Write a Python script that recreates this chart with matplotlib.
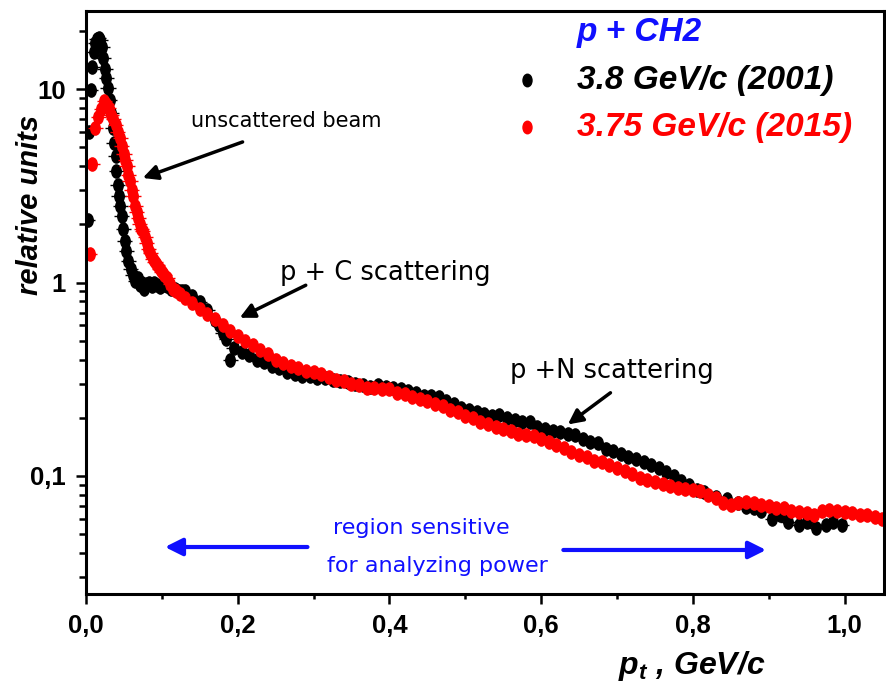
import numpy as np
import matplotlib
matplotlib.use("Agg")
import matplotlib.pyplot as plt
from matplotlib.path import Path
from matplotlib.ticker import FixedLocator, FuncFormatter, LogLocator, NullFormatter

plt.rcParams["mathtext.fontset"] = "custom"
plt.rcParams["mathtext.it"] = "Liberation Sans:bold:italic"
plt.rcParams["mathtext.rm"] = "Liberation Sans:bold:italic"

# ---- p + CH2, 3.8 GeV/c (2001) ----
pt_2001 = [0.002, 0.004, 0.006, 0.008, 0.010, 0.012, 0.014, 0.017, 0.019, 0.021,
           0.023, 0.025, 0.027, 0.029, 0.031, 0.033, 0.035, 0.037, 0.039, 0.040,
           0.042, 0.043, 0.045, 0.047, 0.049, 0.051, 0.053, 0.056, 0.059, 0.062,
           0.065, 0.068, 0.071, 0.074, 0.077, 0.080, 0.083, 0.087, 0.090, 0.094,
           0.098, 0.102, 0.107, 0.112, 0.117, 0.122, 0.127, 0.130, 0.140, 0.150,
           0.160, 0.170, 0.175, 0.180, 0.185, 0.190, 0.195, 0.205, 0.215, 0.225,
           0.235, 0.245, 0.255, 0.265, 0.275, 0.285, 0.295, 0.305, 0.315, 0.325,
           0.335, 0.345, 0.355, 0.365, 0.375, 0.385, 0.395, 0.405, 0.415, 0.425,
           0.435, 0.445, 0.455, 0.465, 0.475, 0.485, 0.495, 0.505, 0.515, 0.525,
           0.535, 0.545, 0.555, 0.565, 0.575, 0.585, 0.595, 0.605, 0.615, 0.625,
           0.635, 0.645, 0.655, 0.665, 0.675, 0.685, 0.695, 0.705, 0.715, 0.725,
           0.735, 0.745, 0.755, 0.765, 0.775, 0.785, 0.795, 0.805, 0.815, 0.830,
           0.845, 0.860, 0.870, 0.880, 0.890, 0.905, 0.915, 0.925, 0.940, 0.950,
           0.963, 0.975, 0.985, 0.996]
y_2001 = [2.1, 6.0, 9.9, 13.1, 15.5, 17.3, 18.2, 18.5, 18.0, 16.5,
          14.5, 12.8, 11.4, 10.1, 8.8, 7.5, 6.3, 5.3, 4.5, 3.8,
          3.2, 2.8, 2.5, 2.2, 1.9, 1.65, 1.45, 1.3, 1.17, 1.1,
          1.02, 1.05, 0.97, 1.0, 0.93, 0.98, 1.0, 0.96, 1.0, 0.97,
          0.95, 0.97, 0.96, 0.93, 0.93, 0.91, 0.90, 0.90, 0.85, 0.79,
          0.72, 0.64, 0.60, 0.55, 0.51, 0.40, 0.46, 0.44, 0.42, 0.40,
          0.39, 0.37, 0.36, 0.345, 0.335, 0.33, 0.33, 0.32, 0.32, 0.315,
          0.31, 0.305, 0.30, 0.295, 0.29, 0.295, 0.29, 0.285, 0.28, 0.275,
          0.27, 0.26, 0.26, 0.255, 0.245, 0.235, 0.225, 0.22, 0.215, 0.21,
          0.205, 0.207, 0.20, 0.195, 0.19, 0.19, 0.18, 0.175, 0.17, 0.168,
          0.165, 0.163, 0.155, 0.15, 0.148, 0.137, 0.135, 0.13, 0.125, 0.122,
          0.118, 0.114, 0.11, 0.105, 0.10, 0.094, 0.09, 0.085, 0.083, 0.078,
          0.076, 0.072, 0.069, 0.068, 0.066, 0.060, 0.063, 0.058, 0.056, 0.058,
          0.054, 0.056, 0.058, 0.056]

# ---- p + CH2, 3.75 GeV/c (2015) ----
pt_2015 = [0.005, 0.008, 0.012, 0.016, 0.020, 0.024, 0.027, 0.030, 0.033, 0.036,
           0.039, 0.042, 0.045, 0.047, 0.050, 0.052, 0.054, 0.056, 0.058, 0.060,
           0.062, 0.065, 0.067, 0.069, 0.071, 0.073, 0.075, 0.078, 0.080, 0.082,
           0.085, 0.088, 0.091, 0.094, 0.097, 0.100, 0.103, 0.107, 0.111, 0.115,
           0.119, 0.124, 0.13, 0.14, 0.15, 0.16, 0.17, 0.18, 0.19, 0.20,
           0.21, 0.22, 0.23, 0.24, 0.25, 0.26, 0.27, 0.28, 0.29, 0.30,
           0.31, 0.32, 0.33, 0.34, 0.35, 0.36, 0.37, 0.38, 0.39, 0.40,
           0.41, 0.42, 0.43, 0.44, 0.45, 0.46, 0.47, 0.48, 0.49, 0.50,
           0.51, 0.52, 0.53, 0.54, 0.55, 0.56, 0.57, 0.58, 0.59, 0.60,
           0.61, 0.62, 0.63, 0.64, 0.65, 0.66, 0.67, 0.68, 0.69, 0.70,
           0.71, 0.72, 0.73, 0.74, 0.75, 0.76, 0.77, 0.78, 0.79, 0.80,
           0.81, 0.82, 0.83, 0.84, 0.85, 0.86, 0.87, 0.88, 0.89, 0.90,
           0.91, 0.92, 0.93, 0.94, 0.95, 0.96, 0.97, 0.98, 0.99, 1.00,
           1.01, 1.02, 1.03, 1.04, 1.05]
y_2015 = [1.40, 4.1, 6.3, 7.2, 7.9, 8.7, 8.4, 8.0, 7.4, 7.0,
          6.5, 6.0, 5.6, 5.06, 4.6, 4.3, 4.0, 3.6, 3.35, 3.0,
          2.8, 2.5, 2.33, 2.15, 2.0, 1.9, 1.84, 1.72, 1.6, 1.5,
          1.42, 1.33, 1.28, 1.24, 1.18, 1.13, 1.09, 1.05, 0.98, 0.93,
          0.90, 0.87, 0.83, 0.78, 0.73, 0.69, 0.645, 0.60, 0.56, 0.53,
          0.50, 0.475, 0.45, 0.425, 0.40, 0.385, 0.37, 0.36, 0.35, 0.345,
          0.335, 0.325, 0.315, 0.31, 0.30, 0.295, 0.285, 0.285, 0.28, 0.28,
          0.27, 0.265, 0.255, 0.25, 0.245, 0.235, 0.23, 0.22, 0.215, 0.205,
          0.20, 0.19, 0.185, 0.18, 0.175, 0.17, 0.165, 0.162, 0.16, 0.155,
          0.15, 0.145, 0.14, 0.133, 0.128, 0.125, 0.12, 0.118, 0.114, 0.11,
          0.106, 0.102, 0.098, 0.095, 0.093, 0.091, 0.089, 0.087, 0.086, 0.085,
          0.084, 0.080, 0.077, 0.072, 0.071, 0.072, 0.073, 0.072, 0.071, 0.070,
          0.068, 0.068, 0.066, 0.065, 0.064, 0.063, 0.066, 0.067, 0.066, 0.065,
          0.064, 0.063, 0.063, 0.061, 0.060]

pt_err = 0.010  # horizontal bin half-width

x_ticks = [0.0, 0.2, 0.4, 0.6, 0.8, 1.0]
y_ticks = [0.1, 1, 10]

# upright ellipse marker
circ = Path.unit_circle()
ellipse = Path(circ.vertices * np.array([0.72, 1.0]), circ.codes)

fig = plt.figure(figsize=(8.87, 6.94), dpi=100)
ax = fig.add_axes([86 / 887, 1 - 594 / 694, (884 - 86) / 887, (594 - 11) / 694])

ax.errorbar(pt_2001, y_2001, xerr=pt_err, fmt="none", ecolor="black", elinewidth=1.0)
ax.plot(pt_2001, y_2001, ls="none", marker=ellipse, ms=9.5, color="black", mec="black")
ax.errorbar(pt_2015, y_2015, xerr=pt_err, fmt="none", ecolor="red", elinewidth=1.0)
ax.plot(pt_2015, y_2015, ls="none", marker=ellipse, ms=9.5, color="red", mec="red")

ax.set_yscale("log")
ax.set_xlim(0, 1.052)
ax.set_ylim(0.0245, 25.4)

comma = FuncFormatter(lambda v, p: f"{v:g}".replace(".", ","))
ax.xaxis.set_major_locator(FixedLocator(x_ticks))
ax.xaxis.set_major_formatter(FuncFormatter(lambda v, p: f"{v:.1f}".replace(".", ",")))
ax.xaxis.set_minor_locator(FixedLocator([0.1, 0.3, 0.5, 0.7, 0.9]))
ax.yaxis.set_major_locator(FixedLocator(y_ticks))
ax.yaxis.set_major_formatter(comma)
ax.yaxis.set_minor_locator(LogLocator(base=10, subs=np.arange(2, 10)))
ax.yaxis.set_minor_formatter(NullFormatter())

for s in ax.spines.values():
    s.set_linewidth(2.2)
ax.tick_params(which="major", direction="out", length=7.5, width=1.8, pad=7,
               top=False, right=False)
ax.tick_params(which="minor", direction="out", length=5, width=1.8,
               top=False, right=False)
ax.tick_params(axis="x", which="minor", length=3.5)
for lab in ax.get_xticklabels() + ax.get_yticklabels():
    lab.set_fontfamily("Liberation Sans")
    lab.set_fontweight("bold")
    lab.set_fontsize(18.5)

bi = dict(family="Liberation Sans", weight="bold", style="italic")
fig.text(30 / 887, 1 - 205 / 694, "relative units", rotation=90,
         ha="center", va="center", fontsize=21, **bi)
fig.text(692 / 887, 1 - 666 / 694, r"$p_t$ , GeV/c", ha="center", va="center",
         fontsize=23, **bi)

# legend block
ax.text(0.6153, 0.9623, "p + CH2", transform=ax.transAxes, ha="left", va="center",
        color="#1010ff", fontsize=24, **bi)
ax.text(0.6153, 0.8816, "3.8 GeV/c (2001)", transform=ax.transAxes, ha="left",
        va="center", color="black", fontsize=24, **bi)
ax.text(0.6153, 0.801, "3.75 GeV/c (2015)", transform=ax.transAxes, ha="left",
        va="center", color="red", fontsize=24, **bi)
ax.plot([0.5526], [0.8816], transform=ax.transAxes, marker=ellipse, ms=9,
        color="black", ls="none", clip_on=False)
ax.plot([0.5526], [0.801], transform=ax.transAxes, marker=ellipse, ms=9,
        color="red", ls="none", clip_on=False)

# annotations
note = dict(family="DejaVu Sans", color="black")
ax.text(0.251, 0.811, "unscattered beam", transform=ax.transAxes, ha="center",
        va="center", fontsize=15, **note)
ax.annotate("", xy=(0.0678, 0.712), xytext=(0.1995, 0.777),
            xycoords="axes fraction", textcoords="axes fraction",
            arrowprops=dict(arrowstyle="-|>", lw=2.5, color="black", mutation_scale=22))
ax.text(0.375, 0.5506, "p + C scattering", transform=ax.transAxes, ha="center",
        va="center", fontsize=18.5, **note)
ax.annotate("", xy=(0.1895, 0.4717), xytext=(0.2785, 0.5317),
            xycoords="axes fraction", textcoords="axes fraction",
            arrowprops=dict(arrowstyle="-|>", lw=2.5, color="black", mutation_scale=22))
ax.text(0.6587, 0.3825, "p +N scattering", transform=ax.transAxes, ha="center",
        va="center", fontsize=18.5, **note)
ax.annotate("", xy=(0.601, 0.288), xytext=(0.66, 0.348),
            xycoords="axes fraction", textcoords="axes fraction",
            arrowprops=dict(arrowstyle="-|>", lw=2.5, color="black", mutation_scale=22))

blue = "#1010ff"
ax.text(0.4203, 0.1132, "region sensitive", transform=ax.transAxes, ha="center",
        va="center", fontsize=16, family="DejaVu Sans", color=blue)
ax.text(0.4404, 0.048, "for analyzing power", transform=ax.transAxes, ha="center",
        va="center", fontsize=16, family="DejaVu Sans", color=blue)
ax.annotate("", xy=(0.0954, 0.0806), xytext=(0.281, 0.0806),
            xycoords="axes fraction", textcoords="axes fraction",
            arrowprops=dict(arrowstyle="-|>", lw=3, color=blue, mutation_scale=26))
ax.annotate("", xy=(0.8557, 0.0755), xytext=(0.5947, 0.0755),
            xycoords="axes fraction", textcoords="axes fraction",
            arrowprops=dict(arrowstyle="-|>", lw=3, color=blue, mutation_scale=26))

fig.savefig("out.png", dpi=100)
